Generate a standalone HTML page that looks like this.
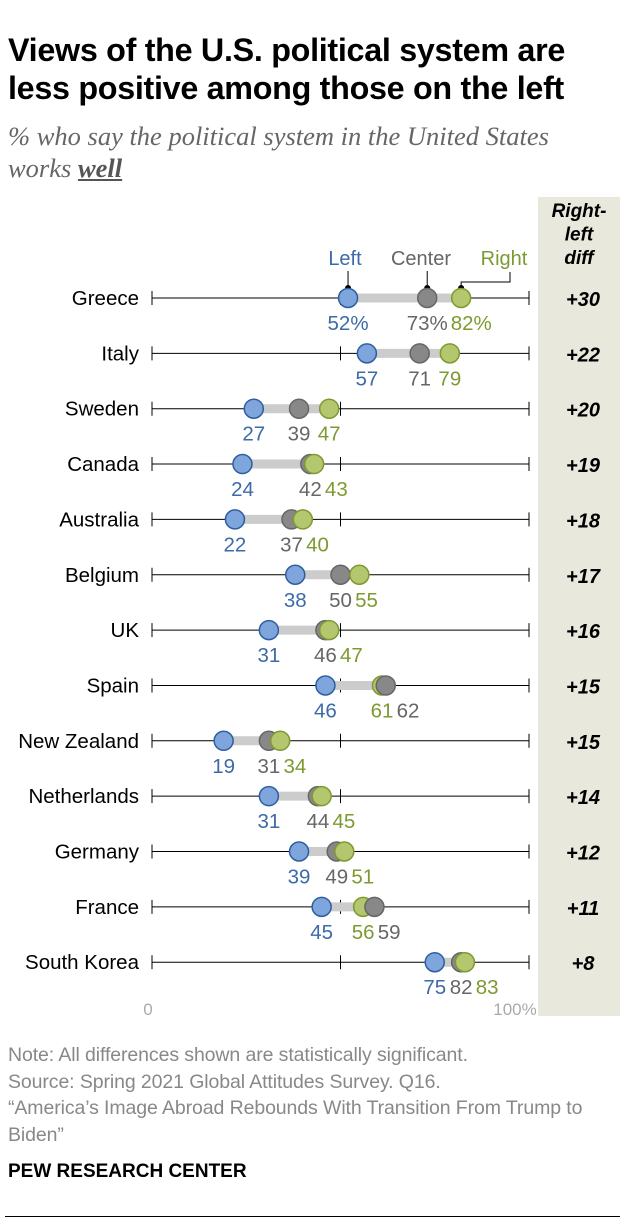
<!DOCTYPE html>
<html><head><meta charset="utf-8"><style>
body{margin:0;width:620px;height:1222px;background:#fff;font-family:"Liberation Sans",sans-serif;position:relative;overflow:hidden}
.t{position:absolute;left:8px;top:31px;font-size:32.3px;font-weight:bold;line-height:38px;color:#000;letter-spacing:-0.3px}
.s{position:absolute;left:8px;top:120px;font-family:"Liberation Serif",serif;font-style:italic;font-size:26.5px;line-height:32px;color:#666}
.n{position:absolute;left:8px;top:1042px;font-size:19.5px;line-height:26.5px;color:#888;letter-spacing:-0.1px}
.p{position:absolute;left:8px;top:1161px;font-size:19px;font-weight:bold;color:#000}
</style></head><body>
<div class="t">Views of the U.S. political system are<br>less positive among those on the left</div>
<div class="s">% who say the political system in the United States<br>works <b style="text-decoration:underline;color:#555">well</b></div>
<svg id="c" width="620" height="1040" style="position:absolute;left:0;top:0"></svg>
<div class="n">Note: All differences shown are statistically significant.<br>Source: Spring 2021 Global Attitudes Survey. Q16.<br>“America’s Image Abroad Rebounds With Transition From Trump to<br>Biden”</div>
<div class="p">PEW RESEARCH CENTER</div>
<div style="position:absolute;left:5px;top:1216px;width:615px;height:1px;background:#000"></div>
<script>
const countries=["Greece","Italy","Sweden","Canada","Australia","Belgium","UK","Spain","New Zealand","Netherlands","Germany","France","South Korea"];
const leftVals=[52,57,27,24,22,38,31,46,19,31,39,45,75];
const centerVals=[73,71,39,42,37,50,46,62,31,44,49,59,82];
const rightVals=[82,79,47,43,40,55,47,61,34,45,51,56,83];
const diffs=["+30","+22","+20","+19","+18","+17","+16","+15","+15","+14","+12","+11","+8"];
const NS="http://www.w3.org/2000/svg";
const svg=document.getElementById('c');
const x=v=>152+v*3.77;
const y=i=>298+i*55.35;
function mk(tag,a,parent){const e=document.createElementNS(NS,tag);for(const k in a)e.setAttribute(k,a[k]);(parent||svg).appendChild(e);return e;}
const panel=mk('rect',{x:538,y:197,width:82,height:819,fill:'#e9e8dc'});


const hd=mk('text',{x:579,y:217,'text-anchor':'middle','font-size':19,'font-weight':'bold','font-style':'italic'});


["Right-","left","diff"].forEach((s,k)=>{const t=mk('tspan',{x:579,dy:k?23.5:0},hd);t.textContent=s;});
const blue="#3d6aa8",gray="#666",green="#7d9a31";
[["Left",blue],["Center",gray],["Right",green]].forEach((l,k)=>{
 const t=mk('text',{x:[345,421,504][k],y:265,'text-anchor':'middle','font-size':20,fill:l[1]});
 t.textContent=l[0];
 
 
});
mk('line',{x1:x(52),y1:271,x2:x(52),y2:288,stroke:'#000'});
mk('line',{x1:x(73),y1:271,x2:x(73),y2:288,stroke:'#000'});
mk('polyline',{points:`510,272 510,282 ${x(82)},282 ${x(82)},288`,fill:'none',stroke:'#000'});
[x(52),x(73),x(82)].forEach(cx=>mk('circle',{cx:cx,cy:288,r:3,fill:'#000'}));
countries.forEach((c,i)=>{
 const yy=y(i);
 const g=mk('g',{});
 
 
 const lab=mk('text',{x:139,y:yy+7,'text-anchor':'end','font-size':20.5,fill:'#000'},g);lab.textContent=c;
 mk('line',{x1:x(0),y1:yy,x2:x(100),y2:yy,stroke:'#000','stroke-width':1},g);
 [0,50,100].forEach(v=>mk('line',{x1:x(v),y1:yy-7,x2:x(v),y2:yy+7,stroke:'#000'},g));
 const lo=Math.min(leftVals[i],centerVals[i],rightVals[i]),hi=Math.max(leftVals[i],centerVals[i],rightVals[i]);
 mk('line',{x1:x(lo),y1:yy,x2:x(hi),y2:yy,stroke:'#ccc','stroke-width':9},g);
 const dots=[[centerVals[i],'#888','#666','center'],[rightVals[i],'#b4c66e','#7d9a31','right'],[leftVals[i],'#7ea6dd','#2e5e9e','left']];
 if(rightVals[i]<centerVals[i]){const t=dots[0];dots[0]=dots[1];dots[1]=t;}
 dots.forEach(d=>{const ci=mk('circle',{cx:x(d[0]),cy:yy,r:9.5,fill:d[1],stroke:d[2],'stroke-width':1.5},g);
  
  });
 const pct=i===0?'%':'';
 const labs=[[leftVals[i],blue],[centerVals[i],gray],[rightVals[i],green]];
 let px=labs.map(l=>x(l[0]));
 const order=[0,1,2].sort((a,b)=>px[a]-px[b]);
 const w=i===0?44:26;
 for(let k=1;k<3;k++){const a=order[k-1],b=order[k];if(px[b]-px[a]<w)px[b]=px[a]+w;}
 labs.forEach((l,k)=>{const t=mk('text',{x:px[k],y:yy+32,'text-anchor':'middle','font-size':20.5,fill:l[1]},g);t.textContent=l[0]+pct;});
 const d=mk('text',{x:583,y:yy+8,'text-anchor':'middle','font-size':20,'font-weight':'bold','font-style':'italic',fill:'#000'},g);d.textContent=diffs[i];
});
const a0=mk('text',{x:x(0)-4,y:1015,'text-anchor':'middle','font-size':17,fill:'#aaa'});a0.textContent='0';
const a1=mk('text',{x:x(100)-14,y:1015,'text-anchor':'middle','font-size':17,fill:'#aaa'});a1.textContent='100%';
</script>
</body></html>
